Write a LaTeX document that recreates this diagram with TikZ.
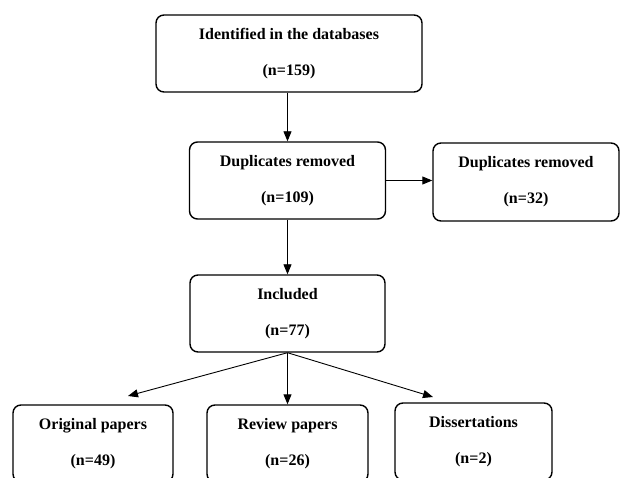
\documentclass[tikz,border=0pt]{standalone}
\usepackage{fontspec}
\setmainfont{Liberation Serif}
\usetikzlibrary{arrows.meta}
\begin{document}
\begin{tikzpicture}[x=1pt,y=-1pt,
  box/.style={draw=black, line width=1.4pt, rounded corners=8pt, align=center,
    inner sep=0pt, font=\fontsize{16}{19}\selectfont\bfseries},
  arr/.style={draw=black, line width=0.9pt, -{Triangle[length=10pt,width=8pt]}}]
\useasboundingbox[fill=white] (0,0) rectangle (621,478);
\node[box, minimum width=266pt, minimum height=77pt] (b1) at (289,53.5) {Identified in the databases\\[17pt](n=159)};
\node[box, minimum width=196pt, minimum height=77pt] (b2) at (287.5,180.5) {Duplicates removed\\[17pt](n=109)};
\node[box, minimum width=186pt, minimum height=78pt] (b3) at (526,182) {Duplicates removed\\[17pt](n=32)};
\node[box, minimum width=195pt, minimum height=77pt] (b4) at (287.5,313.5) {Included\\[17pt](n=77)};
\node[box, minimum width=160pt, minimum height=77pt] (b5) at (93,443.5) {Original papers\\[17pt](n=49)};
\node[box, minimum width=161pt, minimum height=77pt] (b6) at (287.5,443.5) {Review papers\\[17pt](n=26)};
\node[box, minimum width=157pt, minimum height=77pt] (b7) at (473.5,441.5) {Dissertations\\[17pt](n=2)};
\coordinate (t5) at (128,396);
\coordinate (t7) at (433,397);
\draw[arr] (b2.north |- b1.south) -- (b2.north);
\draw[arr] (b2.east) -- (b2.east -| b3.west);
\draw[arr] (b2.south) -- (b4.north);
\draw[arr] (b4.south) -- (t5);
\draw[arr] (b4.south) -- (b6.north);
\draw[arr] (b4.south) -- (t7);
\end{tikzpicture}
\end{document}
